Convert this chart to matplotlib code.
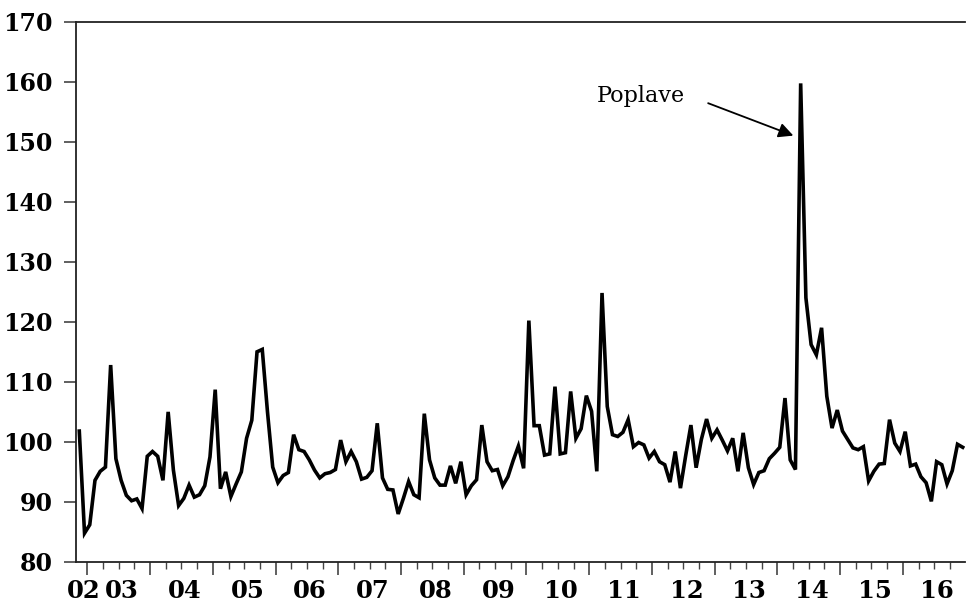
import numpy as np
import matplotlib
matplotlib.use("Agg")
import matplotlib.pyplot as plt
from matplotlib.transforms import blended_transform_factory

# monthly index, Nov 2002 - Dec 2016
values = [
    101.8, 84.8, 86.2, 93.6, 95.1, 95.8, 112.8, 97.2, 93.6, 91.1,
    90.2, 90.5, 88.9, 97.6, 98.4, 97.6, 93.6, 105.0, 95.3, 89.4,
    90.6, 92.8, 90.8, 91.2, 92.7, 97.5, 108.7, 92.2, 95.0, 90.9,
    93.0, 95.0, 100.6, 103.6, 115.0, 115.4, 105.0, 95.8, 93.2, 94.4,
    94.9, 101.2, 98.7, 98.4, 97.0, 95.3, 94.0, 94.7, 94.9, 95.4,
    100.3, 96.7, 98.4, 96.7, 93.8, 94.1, 95.2, 103.1, 94.0, 92.1,
    92.0, 88.0, 90.6, 93.4, 91.2, 90.7, 104.7, 97.0, 94.0, 92.8,
    92.8, 96.0, 93.1, 96.7, 91.2, 92.7, 93.7, 102.8, 96.7, 95.2,
    95.4, 92.7, 94.2, 96.9, 99.3, 95.6, 120.2, 102.7, 102.7, 97.8,
    98.0, 109.2, 98.0, 98.2, 108.4, 100.6, 102.2, 107.7, 105.1, 95.1,
    124.8, 105.9, 101.2, 100.9, 101.6, 103.7, 99.2, 99.9, 99.5, 97.3,
    98.4, 96.7, 96.2, 93.3, 98.4, 92.3, 97.7, 102.8, 95.7, 100.4,
    103.8, 100.6, 102.0, 100.3, 98.5, 100.6, 95.1, 101.5, 95.7, 92.9,
    94.9, 95.2, 97.2, 98.1, 99.1, 107.3, 97.0, 95.4, 159.7, 124.0,
    116.2, 114.5, 119.0, 107.6, 102.3, 105.3, 101.8, 100.4, 99.0, 98.7,
    99.2, 93.5, 95.1, 96.3, 96.4, 103.7, 99.8, 98.4, 101.7, 96.0,
    96.3, 94.2, 93.2, 90.1, 96.7, 96.2, 93.0, 95.2, 99.6, 99.1,
]
year_labels = ["02", "03", "04", "05", "06", "07", "08", "09",
               "10", "11", "12", "13", "14", "15", "16"]
y_ticks = [80, 90, 100, 110, 120, 130, 140, 150, 160, 170]

x = np.arange(len(values))
x_left, x_right = -0.63, 169.45
first_jan = 1.55  # position of Jan 2003 boundary

fig = plt.figure(figsize=(9.67, 6.13), dpi=100)
ax = fig.add_axes([0.0786, 0.0832, 0.9194, 0.8817])

ax.plot(x, values, color="black", lw=2.6, solid_joinstyle="miter")

ax.set_xlim(x_left, x_right)
ax.set_ylim(80, 170)

# axis look
for s in ["left", "bottom", "top"]:
    ax.spines[s].set_linewidth(1.3)
    ax.spines[s].set_color("#222222")
ax.spines["right"].set_visible(False)

ax.set_yticks(y_ticks)
ax.set_yticklabels([str(v) for v in y_ticks], fontfamily="DejaVu Serif",
                   fontweight="bold", fontsize=17)
ax.tick_params(axis="y", direction="out", length=9, width=1.2, pad=8,
               color="#444444")

majors = [first_jan + 12 * k for k in range(14)]
minors = [first_jan + 3 * k for k in range(56) if k % 4 != 0]
ax.set_xticks(majors)
ax.set_xticks(minors, minor=True)
ax.set_xticklabels([])
ax.tick_params(axis="x", which="major", direction="out", length=9, width=1.2,
               color="#444444")
ax.tick_params(axis="x", which="minor", direction="out", length=5, width=1.0,
               color="#444444")

# year labels centred in each year
trans = blended_transform_factory(ax.transData, ax.transAxes)
centres = [(x_left + first_jan) / 2 + 0.3] + [first_jan + 6.6 + 12 * k for k in range(14)]
for c, lab in zip(centres, year_labels):
    ax.text(c, -0.053, lab, transform=trans, ha="center", va="center",
            fontfamily="DejaVu Serif", fontweight="bold", fontsize=17.5)

# annotation
ax.text(99.0, 157.6, "Poplave", fontfamily="DejaVu Serif", fontsize=16,
        va="center", ha="left")
ax.annotate("", xy=(136.6, 151.0), xytext=(120.3, 156.4),
            arrowprops=dict(arrowstyle="-|>", color="black", lw=1.3,
                            mutation_scale=22, shrinkA=0, shrinkB=0))

fig.savefig("out.png", dpi=100)
